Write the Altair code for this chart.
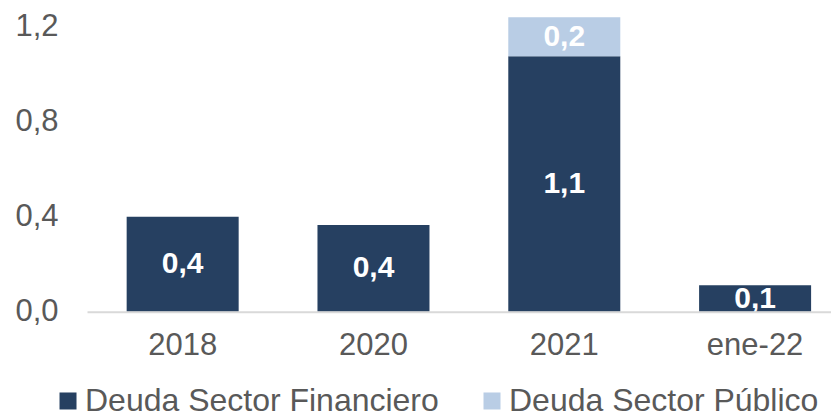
import altair as alt
import pandas as pd

categories = ["2018", "2020", "2021", "ene-22"]
series = ["Deuda Sector Financiero", "Deuda Sector Público"]
financiero = [0.40, 0.365, 1.077, 0.111]
publico = [0.0, 0.0, 0.164, 0.0]
colors = ["#264061", "#B9CDE5"]
y_ticks = [0.0, 0.4, 0.8, 1.2]

rows = []
for i, c in enumerate(categories):
    rows.append({"cat": c, "serie": series[0], "ord": 0, "value": financiero[i]})
    if publico[i] > 0:
        rows.append({"cat": c, "serie": series[1], "ord": 1, "value": publico[i]})
df = pd.DataFrame(rows)

FONT = "Liberation Sans, Arial, sans-serif"
GRAY = "#595959"
FS = 31

base = alt.Chart(df).transform_stack(
    stack="value", groupby=["cat"],
    sort=[alt.SortField("ord", order="ascending")],
    as_=["y0", "y1"],
).transform_calculate(
    mid="(datum.y0 + datum.y1) / 2",
    label="replace(format(datum.value, '.1f'), '.', ',')",
)

x_enc = alt.X(
    "cat:N", sort=categories, title=None,
    scale=alt.Scale(paddingInner=0.413, paddingOuter=0.156, align=0.666),
    axis=alt.Axis(labelAngle=0, labelFontSize=FS, labelFont=FONT, labelColor=GRAY,
                  ticks=False, tickSize=0, labelPadding=19, domain=True,
                  domainColor="#D9D9D9", domainWidth=2, grid=False, zindex=1),
)
y_scale = alt.Scale(domain=[0, 1.28], nice=False, zero=True)

bars = base.mark_bar().encode(
    x=x_enc,
    y=alt.Y("y0:Q", scale=y_scale, title=None,
            axis=alt.Axis(values=y_ticks, labelExpr="replace(format(datum.value, '.1f'), '.', ',')",
                          labelFontSize=FS, labelFont=FONT, labelColor=GRAY,
                          domain=False, ticks=False, tickSize=0, grid=False, labelPadding=29)),
    y2="y1:Q",
    color=alt.Color("serie:N", scale=alt.Scale(domain=series, range=colors),
                    legend=alt.Legend(title=None, orient="none", legendX=-35, legendY=377,
                                      direction="horizontal", symbolType="square",
                                      symbolSize=289, symbolStrokeWidth=0,
                                      labelFontSize=32, labelFont=FONT, labelColor=GRAY,
                                      labelLimit=0, labelOffset=1, columnPadding=37,
                                      padding=0)),
)

text = base.mark_text(fontSize=30, fontWeight="bold", font=FONT, color="white",
                      baseline="middle", clip=True).encode(
    x=alt.X("cat:N", sort=categories),
    y=alt.Y("mid:Q", scale=y_scale),
    text="label:N",
)

chart = alt.layer(bars, text).properties(
    width=744, height=303.7,
    autosize=alt.AutoSizeParams(type="none"),
    padding={"left": 79, "top": 0, "right": 0, "bottom": 100},
).configure_view(stroke=None)

chart.save("out.html", embed_options={"renderer": "svg", "actions": False})
